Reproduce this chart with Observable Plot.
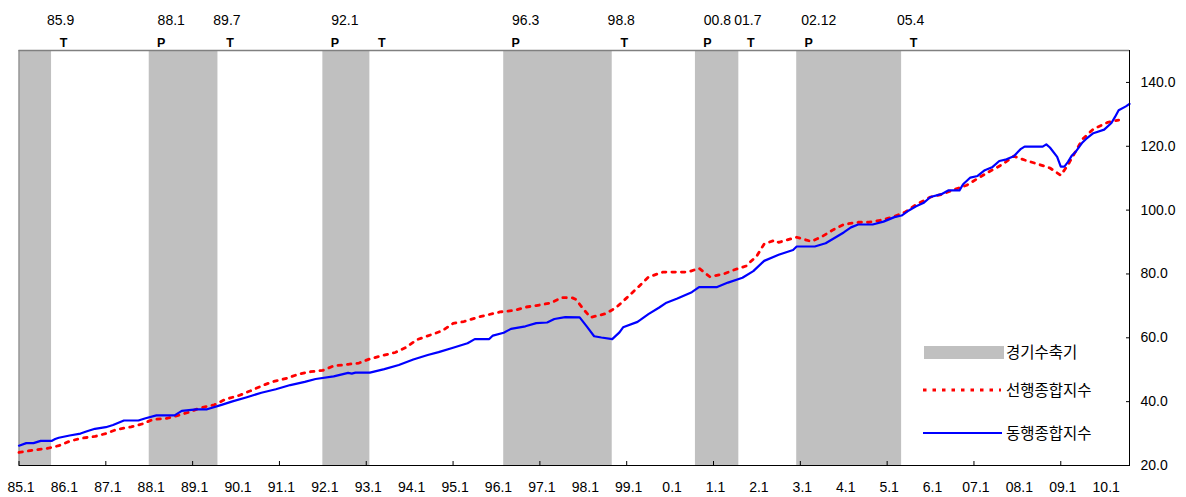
<!DOCTYPE html>
<html>
<head>
<meta charset="utf-8">
<script src="https://cdn.jsdelivr.net/npm/d3@7"></script>
<script src="https://cdn.jsdelivr.net/npm/@observablehq/plot@0.6"></script>
<style>
  html, body { margin: 0; padding: 0; background: #fff; }
  #chart { width: 1186px; height: 497px; }
</style>
</head>
<body>
<div id="chart"></div>
<script>
// ---- Data (month index = months since 1985-01) ----
const coinMonths = [0,2,4,6,9,10,11,14,17,19,21,24,26,29,33,35,38,43,45,49,52,56,59,63,67,71,75,79,82,87,91,92,93,97,101,105,109,113,116,120,124,126,130,131,134,136,140,143,146,148,151,155,157,159,161,164,166,167,171,174,177,179,182,186,188,193,196,200,203,206,210,214,215,220,223,228,230,232,236,239,242,244,246,248,250,252,255,257,260,261,263,265,267,269,271,273,275,277,278,283,284,285,287,288,289,290,291,292,294,295,297,300,302,303,304,306,307];
const coinValues = [26.2,27.0,27.0,27.7,27.7,28.3,28.7,29.4,30.0,30.8,31.5,32.0,32.7,34.1,34.1,34.8,35.7,35.7,37.1,37.6,37.6,39.0,40.1,41.4,42.8,43.9,45.2,46.2,47.1,47.9,49.0,48.8,49.1,49.1,50.2,51.5,53.2,54.6,55.5,56.9,58.3,59.6,59.6,60.7,61.6,62.8,63.6,64.6,64.8,65.9,66.5,66.4,63.5,60.5,60.1,59.6,61.7,63.3,65.0,67.4,69.5,71.0,72.3,74.3,75.9,75.9,77.3,78.8,80.9,84.1,86.0,87.5,88.6,88.6,89.6,93.0,94.6,95.5,95.5,96.4,97.8,98.3,99.9,101.2,102.2,104.1,105.0,106.2,106.2,108.1,110.2,110.7,112.5,113.4,115.4,115.9,116.9,119.2,119.9,119.9,120.6,119.6,116.7,113.6,113.6,115.1,117.0,118.1,121.2,122.3,124.1,125.2,127.3,129.2,131.3,132.5,133.3];

const leadMonths = [0,4,8,11,14,17,21,24,27,31,34,37,41,44,47,50,54,57,61,64,67,70,74,77,80,84,87,91,94,97,100,104,107,110,114,117,120,123,127,130,133,137,140,143,147,150,153,154,156,158,162,165,168,171,174,178,181,185,188,191,195,198,201,204,206,209,210,215,219,222,225,228,232,235,239,242,245,248,252,255,258,262,265,268,272,275,278,282,285,288,290,294,297,301,304];
const leadValues = [24.1,24.8,25.4,26.2,27.6,28.5,29.1,30.0,31.3,32.1,33.0,34.4,34.8,35.7,36.7,38.0,39.0,40.7,42.0,43.4,44.9,46.2,47.3,48.5,49.3,49.8,51.2,51.7,52.1,53.4,54.3,55.4,57.0,59.4,61.0,62.2,64.5,65.1,66.5,67.3,68.1,68.6,69.6,70.1,70.9,72.6,72.5,72.0,69.0,66.4,67.5,69.4,72.5,75.7,79.0,80.6,80.6,80.6,81.8,79.1,80.1,81.4,82.5,85.7,89.4,90.6,89.9,91.5,90.2,91.7,93.8,95.5,96.2,96.2,97.0,98.0,99.4,101.7,104.1,104.9,106.2,107.8,109.9,111.9,114.4,116.9,115.7,114.3,113.2,110.9,114.2,122.2,125.4,127.5,128.2];

// Contraction periods (start month, trough month)
const contractionStarts = ["1985-01","1988-01","1992-01","1996-03","2000-08","2002-12"];
const contractionTroughs = ["1985-09","1989-07","1993-01","1998-08","2001-07","2005-04"];

// Turning points shown above the chart
const turnDates  = ["1985-09","1988-01","1989-07","1992-01","1993-01","1996-03","1998-08","2000-08","2001-07","2002-12","2005-04"];
const turnTypes  = ["T","P","T","P","T","P","T","P","T","P","T"];
const turnLabels = ["85.9","88.1","89.7","92.1","","96.3","98.8","00.8","01.7","02.12","05.4"];

// Axis tick labels
const xLabels = ["85.1","86.1","87.1","88.1","89.1","90.1","91.1","92.1","93.1","94.1","95.1","96.1","97.1","98.1","99.1","0.1","1.1","2.1","3.1","4.1","5.1","6.1","07.1","08.1","09.1","10.1"];
const yTicks = [20,40,60,80,100,120,140];

const seriesNames = ["경기수축기","선행종합지수","동행종합지수"];

// ---- Build ----
const mi = s => { const [y, m] = s.split("-").map(Number); return (y - 1985) * 12 + (m - 1); };
const coin = coinMonths.map((t, i) => ({t, v: coinValues[i]}));
const lead = leadMonths.map((t, i) => ({t, v: leadValues[i]}));
const bars = contractionStarts.map((s, i) => ({x1: mi(s), x2: mi(contractionTroughs[i]) + 1}));
const turns = turnDates.map((d, i) => ({
  b: turnTypes[i] === "T" ? mi(d) + 1 : mi(d),
  type: turnTypes[i], label: turnLabels[i]
}));
const labelTicks = xLabels.map((_, i) => i * 12);
const markTicks = labelTicks.filter((_, i) => i % 2 === 0);
const xMax = 307;

const font = "'Liberation Sans', Arial, sans-serif";

const plot = Plot.plot({
  width: 1186,
  height: 497,
  marginTop: 50,
  marginBottom: 32,
  marginLeft: 18.5,
  marginRight: 57,
  x: {domain: [0, xMax]},
  y: {domain: [20, 150]},
  style: {fontFamily: font, fontSize: "14px", color: "#000", background: "#fff"},
  marks: [
    Plot.rect(bars, {x1: "x1", x2: "x2", fill: "#c0c0c0"}),
    Plot.ruleY([150], {stroke: "#808080", strokeWidth: 1.5}),
    Plot.ruleX([0], {stroke: "#808080"}),
    Plot.line(lead, {x: "t", y: "v", stroke: "#ff0000", strokeWidth: 2.8, strokeDasharray: "3.5,6"}),
    Plot.line(coin, {x: "t", y: "v", stroke: "#0000ff", strokeWidth: 2.2}),
    Plot.ruleY([20], {stroke: "#000"}),
    Plot.ruleX([xMax], {stroke: "#000"}),
    Plot.axisX({ticks: labelTicks, tickSize: 0, tickPadding: 17, dx: 2, fontSize: 14, label: null,
      tickFormat: d => xLabels[Math.round(d / 12)]}),
    Plot.axisX({ticks: markTicks, tickSize: 4, dy: -4, tickFormat: () => "", label: null}),
    Plot.axisY({anchor: "right", ticks: yTicks, tickSize: 0, tickPadding: 11, fontSize: 14, label: null,
      tickFormat: d => d.toFixed(1)}),
    Plot.axisY({anchor: "right", ticks: yTicks, tickSize: 4, dx: -4, tickFormat: () => "", label: null}),
    Plot.text(turns, {x: "b", text: "type", frameAnchor: "top", dy: -12, dx: 12,
      fontSize: 12.5, fontWeight: "bold"}),
    Plot.text(turns.filter(d => d.type === "P"), {x: "b", text: "label", frameAnchor: "top", dy: -35, dx: 22, fontSize: 14}),
    Plot.text(turns.filter(d => d.type === "T"), {x: "b", text: "label", frameAnchor: "top", dy: -35, dx: 9, fontSize: 14})
  ]
});

document.getElementById("chart").appendChild(plot);

// ---- Legend (inside plot area, lower right) ----
const svg = d3.select(plot);
const lg = svg.append("g")
  .attr("font-family", "'Noto Sans CJK KR', 'Noto Sans', sans-serif")
  .attr("font-size", 15.5)
  .attr("text-anchor", "start");
lg.append("rect").attr("x", 924).attr("y", 346).attr("width", 80).attr("height", 13).attr("fill", "#c0c0c0");
lg.append("line").attr("x1", 923).attr("x2", 1001).attr("y1", 390).attr("y2", 390)
  .attr("stroke", "#ff0000").attr("stroke-width", 2.8).attr("stroke-dasharray", "3.5,6");
lg.append("line").attr("x1", 923).attr("x2", 1002).attr("y1", 433).attr("y2", 433)
  .attr("stroke", "#0000ff").attr("stroke-width", 2.2);
[352, 390, 433].forEach((y, i) => {
  lg.append("text").attr("x", 1006).attr("y", y).attr("dy", "0.36em")
    .attr("text-anchor", "start").attr("fill", "#000").text(seriesNames[i]);
});
</script>
</body>
</html>
